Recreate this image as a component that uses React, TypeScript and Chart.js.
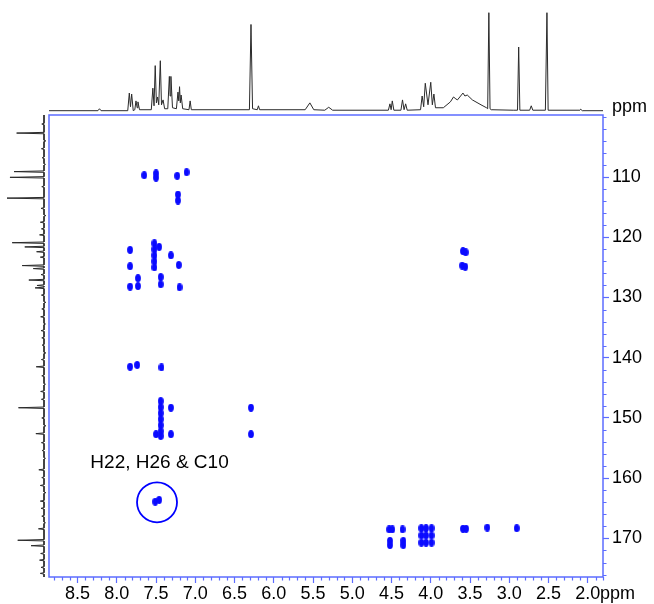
import React, { useEffect, useRef } from 'react';
import { Chart, registerables } from 'chart.js';

Chart.register(...registerables);

// ---------- data ----------
const X_TICKS = [8.5, 8.0, 7.5, 7.0, 6.5, 6.0, 5.5, 5.0, 4.5, 4.0, 3.5, 3.0, 2.5, 2.0];
const Y_TICKS = [110, 120, 130, 140, 150, 160, 170];
const X_MIN = 1.806;
const X_MAX = 8.863;
const Y_MIN = 99.7;
const Y_MAX = 176.4;

// HMBC cross peaks: 1H shift (ppm) and 13C shift (ppm)
const CROSS_H = [
  7.65, 7.5, 7.5, 7.23, 7.11, 7.22, 7.22,
  7.83, 7.83, 7.52, 7.52, 7.52, 7.52, 7.52, 7.46, 7.31, 7.21,
  7.83, 7.73, 7.73, 7.44, 7.44, 7.2,
  7.83, 7.74, 7.43,
  7.44, 7.44, 7.44, 7.44, 7.44, 7.44, 7.44, 7.31, 7.5, 7.31, 6.29, 6.29,
  7.51, 7.46,
  4.53, 4.49, 4.52, 4.52, 4.36, 4.35, 4.35,
  4.12, 4.06, 3.99, 4.12, 4.06, 3.99, 4.12, 4.06, 3.99,
  3.59, 3.55, 3.28, 2.905,
  3.59, 3.555, 3.6, 3.56,
];
const CROSS_C = [
  109.7, 109.4, 110.1, 109.8, 109.2, 112.9, 113.9,
  122.1, 124.8, 121.0, 122.0, 123.0, 124.0, 125.0, 121.6, 123.0, 124.6,
  128.2, 126.8, 128.1, 126.6, 127.8, 128.3,
  141.5, 141.2, 141.6,
  147.2, 148.2, 149.2, 150.2, 151.2, 152.2, 153.0, 148.3, 152.7, 152.7, 148.3, 152.7,
  163.9, 163.6,
  168.5, 168.5, 170.4, 171.1, 168.5, 170.4, 171.1,
  168.3, 168.3, 168.3, 169.5, 169.5, 169.5, 170.7, 170.7, 170.7,
  168.4, 168.4, 168.2, 168.3,
  122.3, 122.5, 124.7, 124.9,
];

// 1H projection trace (ppm, relative intensity)
const H1_TRACE: [number, number][] = [
  [8.863, 0], [8.24, 0], [8.22, 0.02], [8.2, 0],
  [7.86, 0], [7.84, 0.18], [7.825, 0.04], [7.81, 0.17], [7.79, 0], [7.77, 0.01],
  [7.755, 0.1], [7.74, 0.03], [7.73, 0.09], [7.71, 0.01],
  [7.56, 0.01], [7.54, 0.23], [7.525, 0.05], [7.51, 0.46], [7.495, 0.08], [7.48, 0.14],
  [7.465, 0.06], [7.445, 0.51], [7.43, 0.06], [7.41, 0.11], [7.39, 0.02],
  [7.35, 0.02], [7.33, 0.35], [7.32, 0.15], [7.31, 0.35], [7.29, 0.03],
  [7.24, 0.02], [7.22, 0.19], [7.21, 0.1], [7.2, 0.245], [7.19, 0.08], [7.18, 0.16], [7.16, 0.02],
  [7.08, 0.01], [7.065, 0.1], [7.05, 0.01],
  [6.31, 0.01], [6.29, 0.88], [6.27, 0.02], [6.21, 0.01], [6.195, 0.05], [6.18, 0.01],
  [5.6, 0.01], [5.54, 0.08], [5.49, 0.01],
  [5.35, 0.005], [5.3, 0.035], [5.25, 0.005],
  [4.54, 0.005], [4.52, 0.07], [4.505, 0.01], [4.49, 0.1], [4.47, 0.005],
  [4.38, 0.005], [4.36, 0.11], [4.34, 0.01], [4.32, 0.07], [4.3, 0.005],
  [4.13, 0.01], [4.11, 0.15], [4.09, 0.04], [4.07, 0.28], [4.035, 0.06], [4.0, 0.29],
  [3.98, 0.06], [3.96, 0.17], [3.94, 0.03],
  [3.84, 0.03], [3.75, 0.09], [3.71, 0.14], [3.68, 0.12], [3.66, 0.11], [3.62, 0.15],
  [3.59, 0.18], [3.565, 0.15], [3.535, 0.16], [3.47, 0.11], [3.36, 0.06], [3.29, 0.03],
  [3.275, 0.02], [3.26, 1.0], [3.245, 0.02], [3.23, 0.01],
  [2.95, 0.005], [2.895, 0.005], [2.88, 0.65], [2.865, 0.005],
  [2.74, 0.005], [2.72, 0.05], [2.7, 0.005],
  [2.54, 0.005], [2.535, 0.005], [2.52, 1.0], [2.505, 0.005],
  [2.1, 0.005], [2.09, 0.015], [2.07, 0], [1.806, 0],
];

// 13C projection lines (ppm, relative intensity)
const C13_PEAKS: [number, number][] = [
  [101.2, 0.06], [102.7, 0.74], [104.0, -0.05], [105.3, 0.07], [106.8, 0.05], [107.9, -0.04],
  [109.1, 0.81], [110.05, 0.92], [111.6, 0.06], [113.5, 1.0], [115.2, 0.08], [116.4, -0.05],
  [117.5, 0.1], [118.6, 0.07], [119.6, 0.12], [120.9, 0.86], [121.6, 0.52], [122.4, 0.2],
  [123.3, 0.1], [124.7, 0.59], [125.2, 0.29], [126.2, 0.08], [127.1, 0.41], [128.0, 0.19],
  [128.4, 0.24], [129.6, 0.07], [130.8, -0.05], [131.9, 0.06], [133.2, 0.09], [134.4, -0.04],
  [135.5, 0.08], [136.7, 0.06], [137.9, 0.05], [139.2, -0.05], [140.3, 0.07], [141.5, 0.21],
  [143.0, 0.06], [144.4, -0.04], [145.6, 0.09], [146.9, 0.07], [148.3, 0.69], [150.0, 0.06],
  [151.3, -0.05], [152.6, 0.22], [154.1, 0.07], [155.4, 0.05], [156.7, -0.04], [158.6, 0.14],
  [159.9, 0.06], [161.2, 0.1], [162.4, -0.05], [163.8, 0.1], [165.0, 0.08], [166.3, 0.06],
  [167.4, -0.04], [168.4, 0.15], [170.3, 0.71], [171.2, 0.35], [172.5, 0.09], [173.6, 0.12],
  [174.8, 0.08], [175.8, 0.1],
];

const CIRCLE_H = 7.487;
const CIRCLE_C = 164.0;
const LABEL_TEXT = 'H22, H26 & C10';
const LABEL_H = 7.455;
const LABEL_C = 157.5;

// ---------- layout / style ----------
const W = 654;
const H = 604;
const AREA = { left: 49, top: 115, right: 603, bottom: 577 };
const FRAME = '#5c6cff';
const PEAK = '#0a0aff';
const TRACE = '#2a2a2a';
const FONT = '"Liberation Sans", Arial, Helvetica, sans-serif';

function fitRange(f0: number, f1: number) {
  const r = 1 / (f1 - f0);
  const min = -f0 * r;
  return { min, max: min + r };
}
const AH = AREA.bottom - AREA.top;
const AW = AREA.right - AREA.left;
// top projection: baseline at y=110.7, full scale at y=12.7
const TOP_FIT = fitRange((AREA.bottom - 110.7) / AH, (AREA.bottom - 12.7) / AH);
// left projection: baseline at x=44, full scale at x=8
const LEFT_FIT = fitRange((AREA.right - 44) / AW, (AREA.right - 7) / AW);

function makePeakImage() {
  const c = document.createElement('canvas');
  c.width = 6;
  c.height = 8;
  const g = c.getContext('2d')!;
  g.fillStyle = PEAK;
  g.beginPath();
  g.ellipse(3, 4, 2.9, 3.9, 0, 0, Math.PI * 2);
  g.fill();
  return c;
}

const decorPlugin = {
  id: 'decor',
  afterDraw(chart: any) {
    const ctx = chart.ctx as CanvasRenderingContext2D;
    const xs = chart.scales.x;
    const ys = chart.scales.y;
    const { left, top, right, bottom } = chart.chartArea;
    ctx.save();
    ctx.strokeStyle = FRAME;
    ctx.lineWidth = 1.5;
    ctx.strokeRect(left, top, right - left, bottom - top);
    // minor ticks
    ctx.lineWidth = 1.2;
    ctx.beginPath();
    for (let i = 18; i <= 88; i++) {
      const v = i / 10;
      if (i % 5 === 0) continue;
      const px = Math.round(xs.getPixelForValue(v)) + 0.5;
      ctx.moveTo(px, bottom);
      ctx.lineTo(px, bottom + 3.5);
    }
    for (let v = 100; v <= 176; v += 2) {
      if (v % 10 === 0 && v !== 100) continue;
      const py = Math.round(ys.getPixelForValue(v)) + 0.5;
      ctx.moveTo(right, py);
      ctx.lineTo(right + 3.5, py);
    }
    ctx.stroke();
    // texts
    ctx.fillStyle = '#000';
    ctx.font = `18px ${FONT}`;
    ctx.textBaseline = 'middle';
    ctx.textAlign = 'left';
    ctx.fillText('ppm', 600, 594);
    ctx.fillText('ppm', 612, 107);
    ctx.font = `19px ${FONT}`;
    ctx.textAlign = 'center';
    ctx.fillText(LABEL_TEXT, xs.getPixelForValue(LABEL_H), ys.getPixelForValue(LABEL_C));
    ctx.restore();
  },
};

export default function App() {
  const ref = useRef<HTMLCanvasElement | null>(null);
  useEffect(() => {
    if (!ref.current) return;
    const peakImg = makePeakImage();
    const c13Line: { x: number; y: number }[] = [{ x: 0, y: Y_MIN }];
    C13_PEAKS.forEach(([p, h]) => {
      c13Line.push({ x: 0, y: p - 0.12 }, { x: h, y: p }, { x: 0, y: p + 0.12 });
    });
    c13Line.push({ x: 0, y: Y_MAX });

    const chart = new Chart(ref.current, {
      type: 'scatter',
      data: {
        datasets: [
          {
            type: 'line',
            data: H1_TRACE.map(([p, v]) => ({ x: p, y: v })),
            xAxisID: 'x',
            yAxisID: 'yTop',
            borderColor: TRACE,
            borderWidth: 1,
            pointRadius: 0,
            tension: 0,
            clip: false,
          } as any,
          {
            type: 'line',
            data: c13Line,
            xAxisID: 'xLeft',
            yAxisID: 'y',
            borderColor: TRACE,
            borderWidth: 1,
            pointRadius: 0,
            tension: 0,
            clip: false,
          } as any,
          {
            data: CROSS_H.map((h, i) => ({ x: h, y: CROSS_C[i] })),
            xAxisID: 'x',
            yAxisID: 'y',
            pointStyle: peakImg as any,
            pointRadius: 3,
          },
          {
            data: [{ x: CIRCLE_H, y: CIRCLE_C }],
            xAxisID: 'x',
            yAxisID: 'y',
            pointStyle: 'circle',
            pointRadius: 20,
            borderColor: '#0000ff',
            borderWidth: 1.8,
            backgroundColor: 'rgba(0,0,0,0)',
          },
        ],
      },
      options: {
        animation: false,
        responsive: false,
        devicePixelRatio: 1,
        events: [],
        layout: { padding: { left: AREA.left, top: AREA.top, right: 0, bottom: 0 } },
        plugins: { legend: { display: false }, tooltip: { enabled: false } },
        scales: {
          x: {
            type: 'linear',
            position: 'bottom',
            reverse: true,
            min: X_MIN,
            max: X_MAX,
            afterBuildTicks: (s: any) => {
              s.ticks = X_TICKS.map((v) => ({ value: v }));
            },
            ticks: {
              callback: (v: any) => Number(v).toFixed(1),
              color: '#000',
              font: { size: 18, family: FONT },
              padding: 0,
              maxRotation: 0,
              autoSkip: false,
            },
            grid: { drawOnChartArea: false, drawTicks: true, tickLength: 6, tickColor: FRAME, tickWidth: 1.2 },
            border: { display: false },
            afterFit: (s: any) => {
              s.height = H - AREA.bottom;
              s.paddingLeft = 0;
              s.paddingRight = 0;
            },
          },
          y: {
            type: 'linear',
            position: 'right',
            reverse: true,
            min: Y_MIN,
            max: Y_MAX,
            afterBuildTicks: (s: any) => {
              s.ticks = Y_TICKS.map((v) => ({ value: v }));
            },
            ticks: {
              callback: (v: any) => String(v),
              color: '#000',
              font: { size: 18, family: FONT },
              padding: 3,
              autoSkip: false,
            },
            grid: { drawOnChartArea: false, drawTicks: true, tickLength: 6, tickColor: FRAME, tickWidth: 1.2 },
            border: { display: false },
            afterFit: (s: any) => {
              s.width = W - AREA.right;
              s.paddingTop = 0;
              s.paddingBottom = 0;
            },
          },
          yTop: {
            type: 'linear',
            axis: 'y',
            position: 'left',
            display: false,
            min: TOP_FIT.min,
            max: TOP_FIT.max,
          },
          xLeft: {
            type: 'linear',
            axis: 'x',
            position: 'top',
            display: false,
            reverse: true,
            min: LEFT_FIT.min,
            max: LEFT_FIT.max,
          },
        } as any,
      },
      plugins: [decorPlugin],
    });
    return () => chart.destroy();
  }, []);

  return (
    <div style={{ position: 'fixed', left: 0, top: 0, width: W, height: H, background: '#fff' }}>
      <canvas ref={ref} width={W} height={H} style={{ display: 'block' }} />
    </div>
  );
}
